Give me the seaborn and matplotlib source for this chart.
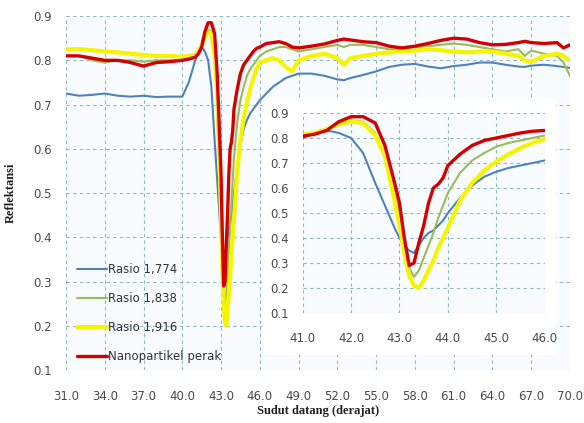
import matplotlib
matplotlib.use("Agg")

import matplotlib.pyplot as plt
import matplotlib.ticker as mticker
from matplotlib.patches import Rectangle
import seaborn as sns
import pandas as pd
import numpy as np

# --- Data ---
angle = [31, 32, 33, 34, 35, 36, 37, 38, 39, 40, 40.5, 41, 41.25, 41.5, 41.75,
         42, 42.25, 42.5, 42.7, 42.9, 43.0, 43.1, 43.2, 43.3, 43.4, 43.5, 43.6,
         43.7, 43.8, 43.9, 44.0, 44.25, 44.5, 44.75, 45, 45.25, 45.5, 45.75, 46,
         46.5, 47, 47.5, 48, 48.5, 49, 50, 51, 52, 52.5, 53, 54, 55, 56, 57, 58,
         59, 60, 61, 62, 63, 64, 65, 66, 66.5, 67, 68, 69, 69.5, 70]

rasio_1774 = [0.725, 0.720, 0.722, 0.725, 0.720, 0.718, 0.720, 0.717, 0.718, 0.718,
              0.750, 0.800, 0.820, 0.830, 0.820, 0.800, 0.740, 0.620, 0.530, 0.440,
              0.400, 0.370, 0.350, 0.340, 0.370, 0.400, 0.420, 0.430, 0.450, 0.470,
              0.500, 0.560, 0.610, 0.645, 0.665, 0.680, 0.690, 0.700, 0.710, 0.725,
              0.740, 0.750, 0.760, 0.765, 0.770, 0.770, 0.765, 0.757, 0.755, 0.760,
              0.767, 0.775, 0.785, 0.790, 0.792, 0.786, 0.782, 0.787, 0.790, 0.795,
              0.795, 0.790, 0.786, 0.785, 0.788, 0.790, 0.787, 0.785, 0.783]

rasio_1838 = [0.810, 0.810, 0.800, 0.795, 0.800, 0.800, 0.797, 0.800, 0.800, 0.800,
              0.805, 0.808, 0.815, 0.835, 0.855, 0.870, 0.865, 0.820, 0.720, 0.580,
              0.500, 0.380, 0.280, 0.245, 0.270, 0.320, 0.370, 0.420, 0.480, 0.530,
              0.580, 0.660, 0.710, 0.740, 0.765, 0.780, 0.790, 0.800, 0.810, 0.820,
              0.825, 0.830, 0.830, 0.825, 0.820, 0.825, 0.830, 0.835, 0.830, 0.835,
              0.835, 0.830, 0.825, 0.825, 0.830, 0.832, 0.835, 0.838, 0.835, 0.830,
              0.825, 0.820, 0.825, 0.810, 0.822, 0.815, 0.810, 0.795, 0.765]

rasio_1916 = [0.825, 0.825, 0.823, 0.820, 0.818, 0.815, 0.812, 0.810, 0.810, 0.808,
              0.810, 0.812, 0.820, 0.835, 0.855, 0.865, 0.860, 0.810, 0.730, 0.550,
              0.450, 0.340, 0.250, 0.210, 0.200, 0.230, 0.270, 0.310, 0.360, 0.400,
              0.440, 0.550, 0.620, 0.670, 0.705, 0.735, 0.760, 0.780, 0.795, 0.800,
              0.805, 0.800, 0.785, 0.775, 0.800, 0.810, 0.815, 0.805, 0.790, 0.805,
              0.810, 0.815, 0.818, 0.820, 0.822, 0.825, 0.823, 0.820, 0.818, 0.820,
              0.820, 0.815, 0.810, 0.800, 0.797, 0.810, 0.815, 0.810, 0.800]

nanopartikel = [0.810, 0.810, 0.805, 0.800, 0.800, 0.795, 0.787, 0.795, 0.797, 0.800,
                0.803, 0.807, 0.815, 0.830, 0.865, 0.885, 0.885, 0.860, 0.770, 0.620,
                0.540, 0.400, 0.290, 0.300, 0.380, 0.450, 0.540, 0.600, 0.615, 0.640,
                0.690, 0.735, 0.770, 0.790, 0.800, 0.810, 0.820, 0.827, 0.830, 0.838,
                0.840, 0.842, 0.838, 0.830, 0.828, 0.832, 0.837, 0.845, 0.848, 0.846,
                0.842, 0.840, 0.832, 0.828, 0.832, 0.838, 0.845, 0.850, 0.848, 0.840,
                0.835, 0.836, 0.840, 0.843, 0.840, 0.838, 0.840, 0.828, 0.835]

SERIES = [
    ("Rasio 1,774", rasio_1774, "#4F81BD", 1.5),
    ("Rasio 1,838", rasio_1838, "#9BBB59", 1.5),
    ("Rasio 1,916", rasio_1916, "#F5F500", 3.0),
    ("Nanopartikel perak", nanopartikel, "#D40000", 2.4),
]

main_xticks = [31, 34, 37, 40, 43, 46, 49, 52, 55, 58, 61, 64, 67, 70]
inset_xticks = [41, 42, 43, 44, 45, 46]
yticks = [0.1, 0.2, 0.3, 0.4, 0.5, 0.6, 0.7, 0.8, 0.9]

GRID = "#8DB6C6"
TICK = "#4A4A4A"

sns.set_theme(style="white")
plt.rcParams["font.family"] = ["DejaVu Sans"]


def style_axes(ax, xticks, xlim):
    ax.set_facecolor("#F9FCFE")
    ax.set_xlim(*xlim)
    ax.set_ylim(0.1, 0.9)
    ax.set_xticks(xticks)
    ax.set_yticks(yticks)
    ax.xaxis.set_major_formatter(mticker.FuncFormatter(lambda v, _: f"{v:.1f}"))
    ax.yaxis.set_major_formatter(mticker.FuncFormatter(lambda v, _: f"{v:.1f}"))
    ax.grid(True, color=GRID, linestyle=(0, (3, 3)), linewidth=0.8)
    for s in ax.spines.values():
        s.set_visible(False)
    ax.tick_params(axis="x", length=0, pad=14, labelsize=8.5, labelcolor=TICK)
    ax.tick_params(axis="y", length=0, pad=10, labelsize=8.5, labelcolor=TICK)


def draw_series(ax, legend):
    for label, vals, color, lw in SERIES:
        df = pd.DataFrame({"angle": angle, "refl": vals})
        sns.lineplot(data=df, x="angle", y="refl", ax=ax, color=color,
                     linewidth=lw, label=label if legend else None,
                     legend=legend, estimator=None, sort=False)
    ax.set_xlabel("")
    ax.set_ylabel("")


fig = plt.figure(figsize=(5.84, 4.23), dpi=100)
fig.patch.set_facecolor("white")

ax = fig.add_axes([0.113, 0.125, 0.863, 0.837])
draw_series(ax, legend=True)
style_axes(ax, main_xticks, (31, 70))
ax.set_xlabel("Sudut datang (derajat)", fontfamily="Liberation Serif",
              fontweight="bold", fontsize=9, labelpad=2, color="#222222")
ax.set_ylabel("Reflektansi", fontfamily="Liberation Serif",
              fontweight="bold", fontsize=9, labelpad=12, color="#222222")
ax.legend(loc="lower left", bbox_to_anchor=(0.0, -0.01), frameon=False,
          fontsize=8.5, labelspacing=1.35, handlelength=2.6, handletextpad=0.1,
          labelcolor="#333333")

# white box behind the inset (covers main grid and inset tick labels)
fig.add_artist(Rectangle((0.449, 0.160), 0.503, 0.605, transform=fig.transFigure,
                         facecolor="white", edgecolor="none", zorder=2))

ins = fig.add_axes([0.518, 0.260, 0.415, 0.473])
ins.set_zorder(3)
draw_series(ins, legend=False)
style_axes(ins, inset_xticks, (41, 46))

fig.savefig("out.png", dpi=100)
plt.close(fig)
